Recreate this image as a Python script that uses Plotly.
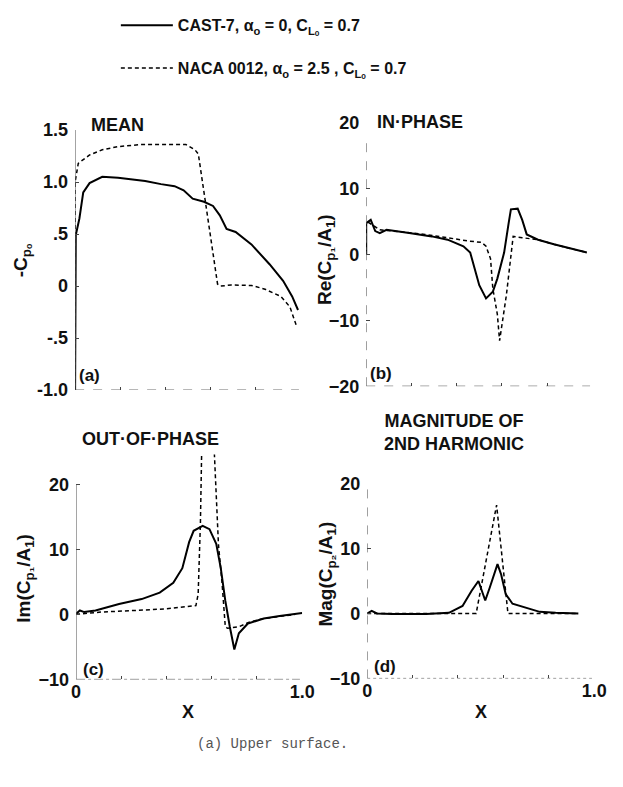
import plotly.graph_objects as go

# ---- data ----
# (a) mean pressure, -Cp0
xa_cast = [0, 0.0, 0.003, 0.019, 0.036, 0.064, 0.12, 0.19, 0.31, 0.38, 0.44, 0.48, 0.52, 0.57,
           0.61, 0.64, 0.67, 0.71, 0.78, 0.86, 0.92, 0.96, 0.986]
ya_cast = [-1.0, 0.2, 0.49, 0.65, 0.90, 0.99, 1.05, 1.04, 1.01, 0.98, 0.96, 0.92, 0.84, 0.81,
           0.77, 0.68, 0.55, 0.52, 0.40, 0.21, 0.05, -0.10, -0.23]
xa_naca = [0, 0.0, 0.014, 0.064, 0.12, 0.19, 0.29, 0.41, 0.49, 0.53, 0.545, 0.63, 0.643, 0.69,
           0.78, 0.84, 0.91, 0.95, 0.98]
ya_naca = [-1.0, 1.0, 1.18, 1.26, 1.31, 1.34, 1.36, 1.36, 1.36, 1.31, 1.27, 0.02, 0.0, 0.01,
           0.006, -0.03, -0.10, -0.20, -0.39]

# (b) in-phase, Re(Cp1/A1)
xb_cast = [0, 0.0, 0.02, 0.04, 0.06, 0.09, 0.19, 0.29, 0.36, 0.43, 0.46, 0.48, 0.50, 0.53,
           0.56, 0.58, 0.61, 0.63, 0.64, 0.67, 0.69, 0.71, 0.76, 0.83, 0.90, 0.976]
yb_cast = [0, 4.7, 5.2, 3.5, 3.2, 3.7, 3.2, 2.7, 2.2, 1.2, 0.25, -2.2, -4.7, -6.7,
           -5.7, -3.7, 0.25, 4.7, 6.8, 6.9, 5.2, 3.0, 2.2, 1.5, 0.9, 0.25]
xb_naca = [0, 0.0, 0.03, 0.06, 0.12, 0.26, 0.36, 0.45, 0.51, 0.53, 0.55, 0.56, 0.58, 0.59,
           0.62, 0.64, 0.65, 0.69, 0.76, 0.83, 0.976]
yb_naca = [0, 5.0, 4.4, 3.7, 3.5, 3.0, 2.5, 2.0, 1.8, 1.2, -0.7, -5.2, -9.1, -13.1,
           -6.2, -0.25, 2.7, 2.5, 2.2, 1.5, 0.25]

# (c) out-of-phase, Im(Cp1/A1)
xc_cast = [0, 0.017, 0.036, 0.086, 0.19, 0.29, 0.37, 0.43, 0.47, 0.50, 0.52, 0.56, 0.59, 0.62,
           0.64, 0.66, 0.68, 0.70, 0.72, 0.76, 0.83, 0.90, 1.0]
yc_cast = [0.1, 0.6, 0.35, 0.6, 1.6, 2.35, 3.35, 4.85, 7.1, 11.1, 12.85, 13.6, 13.1, 10.85,
           7.1, 2.1, -1.9, -5.4, -2.9, -1.4, -0.65, -0.25, 0.2]
xc_naca = [0, 0.11, 0.26, 0.40, 0.53, 0.54, 0.55, 0.556, 0.61, 0.63, 0.645, 0.66, 0.67, 0.72,
           0.77, 0.83, 0.97]
yc_naca = [0, 0.35, 0.6, 0.85, 1.35, 3.1, 14.1, 26.0, 26.0, 10.6, 5.1, -1.9, -2.15, -1.9,
           -1.15, -0.65, 0]

# (d) magnitude of 2nd harmonic, Mag(Cp2/A1)
xd_cast = [0, 0.02, 0.043, 0.11, 0.26, 0.36, 0.42, 0.46, 0.49, 0.50, 0.52, 0.54, 0.574, 0.59,
           0.61, 0.64, 0.69, 0.76, 0.83, 0.93]
yd_cast = [0, 0.4, 0, -0.1, -0.1, 0.1, 1.15, 3.5, 5.0, 4.0, 2.0, 4.0, 7.6, 6.0,
           3.0, 1.5, 1.0, 0.25, 0.1, 0]
xd_naca = [0, 0.26, 0.48, 0.57, 0.62, 0.75, 0.93]
yd_naca = [0, 0, 0, 16.7, 0, 0, 0]

x_ticks = [0, 0.2, 0.4, 0.6, 0.8, 1.0]
ya_ticks = [-1.0, -0.5, 0, 0.5, 1.0, 1.5]
ya_text = ['-1.0', '-.5', '0', '.5', '1.0', '1.5']

# page is 623x787; the html body keeps an 8px margin, so the figure is shrunk by 16
PAGE_W, PAGE_H = 623, 787
W, H = PAGE_W - 16, PAGE_H - 16
FONT = 'Liberation Sans'


def px(x):
    # page pixel -> paper x
    return (x - 8) / W


def py(y):
    # page pixel -> paper y
    return 1 - (y - 8) / H


fig = go.Figure()

panels = [
    ('x', 'y', xa_cast, ya_cast, xa_naca, ya_naca),
    ('x2', 'y2', xb_cast, yb_cast, xb_naca, yb_naca),
    ('x3', 'y3', xc_cast, yc_cast, xc_naca, yc_naca),
    ('x4', 'y4', xd_cast, yd_cast, xd_naca, yd_naca),
]
for i, (xr, yr, xs, ys, xn, yn) in enumerate(panels):
    fig.add_trace(go.Scatter(
        x=xs, y=ys, xaxis=xr, yaxis=yr, mode='lines',
        line=dict(color='black', width=2),
        name='CAST-7, α<sub>o</sub> = 0, C<sub>Lₒ</sub> = 0.7',
        legendgroup='cast', showlegend=(i == 0)))
    fig.add_trace(go.Scatter(
        x=xn, y=yn, xaxis=xr, yaxis=yr, mode='lines',
        line=dict(color='black', width=1.5, dash='4px,3px'),
        name='NACA 0012, α<sub>o</sub> = 2.5 , C<sub>Lₒ</sub> = 0.7',
        legendgroup='naca', showlegend=(i == 0)))

tickfont = dict(family=FONT, size=18, color='#111', weight='bold')
common_x = dict(range=[0, 1.0], tickvals=x_ticks, ticks='inside', ticklen=3,
                tickcolor='#444', showgrid=False, zeroline=False, showline=False,
                tickfont=tickfont)
common_y = dict(ticks='inside', ticklen=4, tickcolor='#444', showgrid=False,
                zeroline=False, showline=False, tickfont=tickfont, ticklabelstandoff=6)

fig.update_layout(
    width=W, height=H,
    margin=dict(l=0, r=0, t=0, b=0),
    paper_bgcolor='white', plot_bgcolor='white',
    font=dict(family=FONT, size=16, color='#111'),
    xaxis=dict(common_x, domain=[px(72), px(305)], anchor='y', ticktext=['']*6),
    yaxis=dict(common_y, domain=[py(390), py(123)], anchor='x', range=[-1.0, 1.5],
               tickvals=ya_ticks, ticktext=ya_text),
    xaxis2=dict(common_x, domain=[px(372), px(605)], anchor='y2', ticktext=['']*6),
    yaxis2=dict(common_y, domain=[py(386), py(115)], anchor='x2', range=[-20, 20],
                tickvals=[-20, -10, 0, 10, 20]),
    xaxis3=dict(common_x, domain=[px(73), px(306)], anchor='y3',
                ticktext=['0', '', '', '', '', '1.0']),
    yaxis3=dict(common_y, domain=[py(687), py(456)], anchor='x3', range=[-10, 24.6],
                tickvals=[-10, 0, 10, 20]),
    xaxis4=dict(common_x, domain=[px(373), px(607)], anchor='y4',
                ticktext=['0', '', '', '', '', '1.0']),
    yaxis4=dict(common_y, domain=[py(686), py(486)], anchor='x4', range=[-10, 20],
                tickvals=[-10, 0, 10, 20]),
    legend=dict(x=px(114), y=py(-2), xanchor='left', yanchor='top',
                font=dict(family=FONT, size=16, color='#111', weight='bold'),
                tracegroupgap=19, itemwidth=52, bgcolor='rgba(0,0,0,0)'),
    showlegend=True,
)

# axis frame lines (left and bottom) per panel
frames = [
    ('x', 'y', -1.0, 1.5, 'solid', 'dash'),
    ('x2', 'y2', -20, 17, 'dash', 'dash'),
    ('x3', 'y3', -10, 20, 'solid', 'dashdot'),
    ('x4', 'y4', -10, 20, 'dash', 'dot'),
]
for xr, yr, y0, y1, ldash, bdash in frames:
    fig.add_shape(type='line', xref=xr, yref=yr, x0=0, x1=0, y0=y0, y1=y1,
                  line=dict(color='#555', width=1, dash=ldash))
    fig.add_shape(type='line', xref=xr, yref=yr, x0=0, x1=0.99, y0=y0, y1=y0,
                  line=dict(color='#555', width=1, dash=bdash))

ann = []


def text(x, y, s, size=18, xanchor='left', bold=True, angle=0, family=FONT, color='#111'):
    ann.append(dict(x=px(x), y=py(y), xref='paper', yref='paper', text=s, showarrow=False,
                    xanchor=xanchor, yanchor='middle', textangle=angle,
                    font=dict(family=family, size=size, color=color,
                              weight='bold' if bold else 'normal')))


text(86, 118, 'MEAN')
text(381, 115, 'IN·PHASE')
text(77, 440, 'OUT·OF·PHASE')
text(462, 434, 'MAGNITUDE OF<br>2ND HARMONIC', xanchor='center')
text(74, 375, '(a)', size=17)
text(374, 373, '(b)', size=17)
text(78, 677, '(c)', size=17)
text(378, 674, '(d)', size=17)
text(188, 720, 'X', xanchor='center')
text(490, 720, 'X', xanchor='center')
text(17, 257, '-C<sub>pₒ</sub>', xanchor='center', angle=-90, size=19)
text(330, 256, 'Re(C<sub>p₁</sub>/A<sub>1</sub>)', xanchor='center', angle=-90, size=19)
text(20, 583, 'Im(C<sub>p₁</sub>/A<sub>1</sub>)', xanchor='center', angle=-90, size=19)
text(332, 579, 'Mag(C<sub>p₂</sub>/A<sub>1</sub>)', xanchor='center', angle=-90, size=19)
text(275, 753, '(a) Upper surface.', xanchor='center', size=14, bold=False,
     family='Liberation Mono', color='#555')

fig.update_layout(annotations=ann)

fig.write_html('out.html')
